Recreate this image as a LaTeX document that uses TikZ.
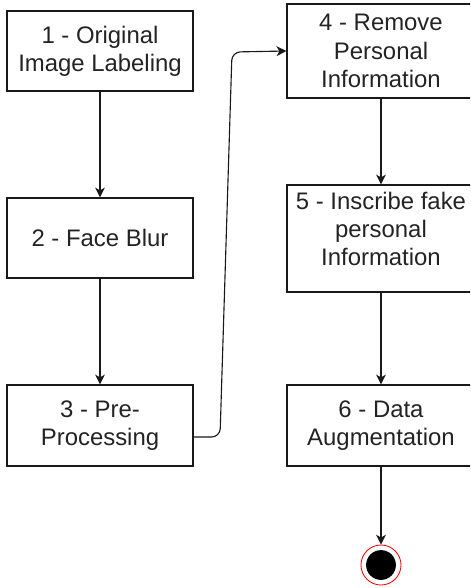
\documentclass[tikz,border=0pt]{standalone}
\usepackage{fontspec}
\setmainfont{Liberation Sans}
\usepackage{tikz}
\usetikzlibrary{calc, arrows.meta}
\tikzset{>={Stealth[length=7pt, width=7pt, inset=2pt]}}
\definecolor{mytext}{RGB}{35, 35, 35}
\definecolor{myline}{RGB}{25, 25, 25}
\definecolor{myred}{RGB}{255, 0, 0}
\tikzset{stepbox/.style = {draw = myline, line width = 0.8pt, rectangle, align = center,
  text = mytext, font = \fontsize{17}{20}\selectfont, inner sep = 0pt}}

\begin{document}
\begin{tikzpicture}[x = 0.025cm, y = -0.025cm]
\useasboundingbox (0,0) rectangle (470,588);
\begin{scope}
\clip (0,0) rectangle (470,588);
\node[stepbox, minimum width = 4.65cm, minimum height = 2cm] (p1) at (100, 51) {1 - Original\\Image Labeling};
\node[stepbox, minimum width = 4.65cm, minimum height = 2cm] (p2) at (100, 238) {2 - Face Blur};
\node[stepbox, minimum width = 4.65cm, minimum height = 2.025cm] (p3) at (100, 425.5) {3 - Pre-\\Processing};
\node[stepbox, minimum width = 4.7cm, minimum height = 2.35cm] (p4) at (381, 51) {4 - Remove\\Personal\\Information};
\node[stepbox, minimum width = 4.7cm, minimum height = 2.675cm] (p5) at (381, 238.5) {5 - Inscribe fake\\personal\\Information\\[-6pt]};
\node[stepbox, minimum width = 4.7cm, minimum height = 2.025cm] (p6) at (381, 425.5) {6 - Data\\Augmentation};
\end{scope}
\node[circle, draw = myred, line width = 0.6pt, fill = white, minimum size = 1cm, inner sep = 0pt] (done) at (381, 565) {};
\fill[black] (done) circle [radius = 10.6pt];
\draw[->, line width = 0.8pt, myline] (p1) -- (p2);
\draw[->, line width = 0.8pt, myline] (p2) -- (p3);
\draw[->, line width = 0.8pt, myline] (p4) -- (p5);
\draw[->, line width = 0.8pt, myline] (p5) -- (p6);
\draw[->, line width = 0.8pt, myline] (p6) -- (done);
\draw[->, line width = 0.8pt, myline, rounded corners = 6pt] ([yshift = -8.2pt]p3.east) -- (220, 437) -- (232, 52) -- (p4.west);
\end{tikzpicture}
\end{document}
